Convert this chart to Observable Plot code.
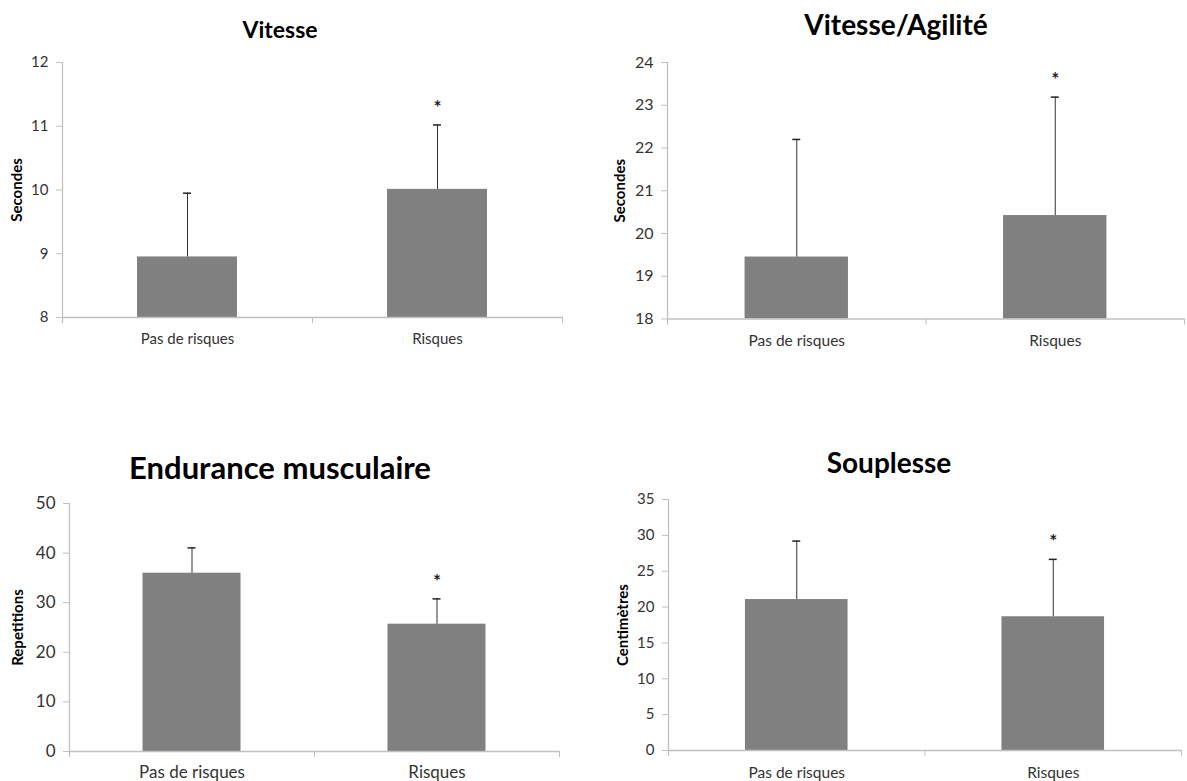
<!DOCTYPE html>
<html><head><meta charset="utf-8">
<script src="https://cdn.jsdelivr.net/npm/d3@7"></script>
<script src="https://cdn.jsdelivr.net/npm/@observablehq/plot@0.6"></script>
<style>
body{margin:0;background:#fff;width:1187px;height:781px;position:relative;overflow:hidden;font-family:Lato,"Open Sans",sans-serif;}
.panel{position:absolute;}
.title{position:absolute;transform:translate(-50%,-50%);font-weight:bold;white-space:nowrap;color:#000;font-family:Lato,"Open Sans",sans-serif;line-height:1;}
</style></head><body>
<script>
// ---- data ----
const categories = ["Pas de risques", "Risques"];
const titles = ["Vitesse", "Vitesse/Agilité", "Endurance musculaire", "Souplesse"];
const yLabels = ["Secondes", "Secondes", "Repetitions", "Centimètres"];
const vitesseMeans = [8.95, 10.01];
const vitesseSD = [1.0, 1.01];
const agiliteMeans = [19.45, 20.42];
const agiliteSD = [2.75, 2.77];
const enduranceMeans = [35.95, 25.67];
const enduranceSD = [5.1, 5.1];
const souplesseMeans = [21.05, 18.65];
const souplesseSD = [8.15, 8.0];
const significant = [false, true];
const vitesseTicks = [8, 9, 10, 11, 12];
const agiliteTicks = [18, 19, 20, 21, 22, 23, 24];
const enduranceTicks = [0, 10, 20, 30, 40, 50];
const souplesseTicks = [0, 5, 10, 15, 20, 25, 30, 35];

// ---- layout (style) ----
const panels = [
  {means: vitesseMeans, sd: vitesseSD, ticks: vitesseTicks, axisX: 62, axisEnd: 562, top: 62, bottom: 317,
   tx: 280, ty: 29, tSize: 23, labX: 17, labSize: 15, tickSize: 15, catSize: 15, catPad: 16},
  {means: agiliteMeans, sd: agiliteSD, ticks: agiliteTicks, axisX: 667, axisEnd: 1184, top: 62, bottom: 318.5,
   tx: 896, ty: 24, tSize: 28, labX: 620, labSize: 15, tickSize: 16, catSize: 15.5, catPad: 16},
  {means: enduranceMeans, sd: enduranceSD, ticks: enduranceTicks, axisX: 69, axisEnd: 559, top: 503, bottom: 751,
   tx: 280, ty: 467, tSize: 31, labX: 18, labSize: 15, tickSize: 17, catSize: 17, catPad: 14},
  {means: souplesseMeans, sd: souplesseSD, ticks: souplesseTicks, axisX: 668, axisEnd: 1181, top: 499, bottom: 750,
   tx: 889, ty: 462, tSize: 28, labX: 623, labSize: 15, tickSize: 15, catSize: 15.5, catPad: 16}
];
const axisColor = "#c0c0c0";
const textColor = "#333";

panels.forEach((p, k) => {
  const left = k % 2 === 0 ? 0 : 590;
  const mTop = 20, mBottom = 45, mRight = 4;
  const width = p.axisEnd - left + mRight;
  const height = (p.bottom - p.top) + mTop + mBottom;
  const rows = categories.map((c, i) => ({i, cat: c, mean: p.means[i], sd: p.sd[i], sig: significant[i]}));
  const ymin = p.ticks[0], ymax = p.ticks[p.ticks.length - 1];
  const chart = Plot.plot({
    width, height,
    marginLeft: p.axisX - left, marginRight: mRight, marginTop: mTop, marginBottom: mBottom,
    style: {fontFamily: "Lato, 'Open Sans', sans-serif", background: "transparent", overflow: "visible"},
    x: {type: "linear", domain: [0, categories.length], axis: null},
    y: {domain: [ymin, ymax], axis: null},
    marks: [
      Plot.rectY(rows, {x1: d => d.i + 0.3, x2: d => d.i + 0.7, y1: () => ymin, y2: "mean", fill: "#808080"}),
      Plot.ruleX(rows, {x: d => d.i + 0.5, y1: "mean", y2: d => d.mean + d.sd, stroke: "#333", strokeWidth: 1}),
      Plot.ruleY(rows, {y: d => d.mean + d.sd, x1: d => d.i + 0.5, x2: d => d.i + 0.5, insetLeft: -4, insetRight: -4, stroke: "#222", strokeWidth: 1.5}),
      Plot.text(rows.filter(d => d.sig), {x: d => d.i + 0.5, y: d => d.mean + d.sd, text: () => "*", dy: -17, fontSize: 19, fontWeight: "bold", fill: "#222"}),
      Plot.ruleX([0], {stroke: axisColor, strokeWidth: 1.3, insetBottom: -6}),
      Plot.ruleY([ymin], {stroke: axisColor, strokeWidth: 1.3}),
      Plot.axisY({ticks: p.ticks, tickFormat: d3.format("d"), tickSize: 6, tickPadding: 8, stroke: axisColor, fill: textColor, fontSize: p.tickSize, label: null}),
      Plot.axisX({ticks: d3.range(categories.length + 1), tickFormat: () => "", tickSize: 6, stroke: axisColor, label: null}),
      Plot.axisX({ticks: categories.map((c, i) => i + 0.5), tickFormat: v => categories[Math.floor(v)], tickSize: 0, tickPadding: p.catPad, fill: textColor, fontSize: p.catSize, label: null}),
      Plot.text([yLabels[k]], {frameAnchor: "left", textAnchor: "middle", rotate: -90, dx: -(p.axisX - p.labX), fontWeight: "bold", fontSize: p.labSize, fill: "#000"})
    ]
  });
  chart.classList.add("panel");
  chart.style.left = left + "px";
  chart.style.top = (p.top - mTop) + "px";
  document.body.appendChild(chart);
  const t = document.createElement("div");
  t.className = "title";
  t.textContent = titles[k];
  t.style.left = p.tx + "px";
  t.style.top = p.ty + "px";
  t.style.fontSize = p.tSize + "px";
  document.body.appendChild(t);
});
</script>
</body></html>
